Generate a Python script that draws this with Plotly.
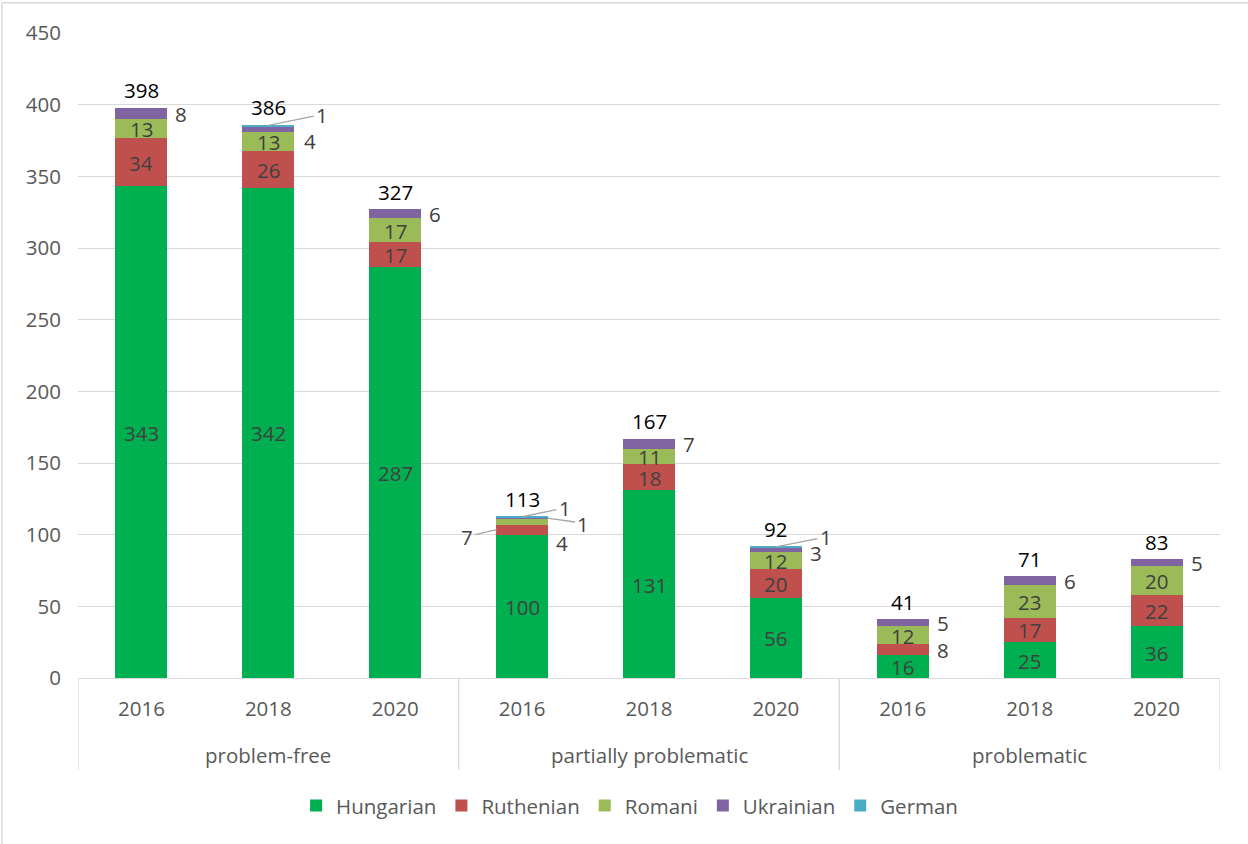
import plotly.graph_objects as go

# ---------------- data ----------------
groups = ["problem-free", "partially problematic", "problematic"]
years = ["2016", "2018", "2020"]
series_names = ["Hungarian", "Ruthenian", "Romani", "Ukrainian", "German"]
hungarian = [343, 342, 287, 100, 131, 56, 16, 25, 36]
ruthenian = [34, 26, 17, 7, 18, 20, 8, 17, 22]
romani = [13, 13, 17, 4, 11, 12, 12, 23, 20]
ukrainian = [8, 4, 6, 1, 7, 3, 5, 6, 5]
german = [0, 1, 0, 1, 0, 1, 0, 0, 0]
colors = ["#00B050", "#C0504D", "#9BBB59", "#8064A2", "#4BACC6"]

values = [hungarian, ruthenian, romani, ukrainian, german]
n = len(hungarian)
xpos = list(range(n))
tick_years = [y for g in groups for y in years]
totals = [sum(v[i] for v in values) for i in range(n)]

FONT = "Open Sans"
FS = 20.5
LABEL_C = "#404040"
AXIS_C = "#595959"
GRID_C = "#d9d9d9"

fig = go.Figure()
for name, vals, col in zip(series_names, values, colors):
    fig.add_trace(go.Bar(
        x=xpos, y=vals, name=name, marker=dict(color=col, line=dict(width=0)),
        width=0.41, hoverinfo="skip",
    ))

# ---------------- labels ----------------
# label placement rules (layout only): series index -> default mode
default_mode = {0: "in", 1: "in", 2: "in", 3: "right", 4: "arrow"}
# per-point overrides: (series, bar) -> dict
overrides = {
    (1, 3): dict(mode="arrow", tipdx=-0.2, ax=-30, ay=7),
    (2, 3): dict(mode="right", xs=40, ys=-21),
    (3, 3): dict(mode="arrow", tipdx=0.2, ax=36, ay=5),
    (4, 3): dict(mode="arrow", tipdx=0.0, ax=43, ay=-9),
    (4, 1): dict(mode="arrow", tipdx=0.0, ax=54, ay=-11),
    (3, 1): dict(mode="right", xs=42, ys=-11),
    (4, 5): dict(mode="arrow", tipdx=0.0, ax=50, ay=-10),
    (3, 5): dict(mode="right", xs=40, ys=-3),
    (1, 6): dict(mode="right", xs=40, ys=0),
}

BOXH = 19  # compact label box height (digits only)

annotations = []
for i in range(n):
    base = 0
    for s, vals in enumerate(values):
        v = vals[i]
        if v == 0:
            continue
        mid = base + v / 2
        base += v
        o = overrides.get((s, i), {})
        mode = o.get("mode", default_mode[s])
        font = dict(family=FONT, size=FS, color=LABEL_C)
        if mode == "in":
            annotations.append(dict(x=i, y=mid, xref="x", yref="y", text=str(v),
                                    showarrow=False, font=font, height=BOXH,
                                    borderpad=0))
        elif mode == "right":
            annotations.append(dict(x=i, y=mid, xref="x", yref="y", text=str(v),
                                    showarrow=False, font=font, height=BOXH, borderpad=0,
                                    xshift=o.get("xs", 40), yshift=o.get("ys", 0)))
        else:
            annotations.append(dict(x=i + o.get("tipdx", 0), y=mid, xref="x", yref="y",
                                    text=str(v), showarrow=True, arrowhead=0,
                                    arrowwidth=1.3, arrowcolor="#a6a6a6",
                                    ax=o.get("ax", 45), ay=o.get("ay", -10),
                                    standoff=0, startstandoff=2, font=font,
                                    height=BOXH, borderpad=0))
    annotations.append(dict(x=i, y=totals[i], xref="x", yref="y", text=str(totals[i]),
                            showarrow=False, yshift=18, height=BOXH, borderpad=0,
                            font=dict(family=FONT, size=FS, color="#000000")))

# group labels
for gi, g in enumerate(groups):
    annotations.append(dict(x=gi * 3 + 1, y=-0.119, xref="x", yref="paper", text=g,
                            showarrow=False, yanchor="middle",
                            font=dict(family=FONT, size=FS, color=AXIS_C)))

# ---------------- shapes ----------------
shapes = []
for k in range(len(groups) + 1):
    shapes.append(dict(type="line", xref="x", yref="paper", x0=k * 3 - 0.5, x1=k * 3 - 0.5,
                       y0=0, y1=-0.1426, line=dict(color=GRID_C, width=1.3)))
# chart frame (left and top border)
shapes.append(dict(type="line", xref="paper", yref="paper", x0=-0.0666, x1=-0.0666,
                   y0=1.047, y1=-0.5, line=dict(color=GRID_C, width=1.5)))
shapes.append(dict(type="line", xref="paper", yref="paper", x0=-0.0666, x1=1.1,
                   y0=1.047, y1=1.047, line=dict(color=GRID_C, width=1.5)))

fig.update_layout(
    barmode="stack",
    width=1248, height=844,
    margin=dict(l=78, r=28, t=33, b=166),
    paper_bgcolor="white", plot_bgcolor="white",
    font=dict(family=FONT, size=FS, color=AXIS_C),
    annotations=annotations,
    shapes=shapes,
    legend=dict(orientation="h", x=0.483, y=-0.198, xanchor="center", yanchor="middle",
                traceorder="normal", font=dict(family=FONT, size=FS, color=AXIS_C),
                itemclick=False, itemdoubleclick=False),
    xaxis=dict(
        range=[-0.5, n - 0.5], tickmode="array", tickvals=xpos, ticktext=tick_years,
        showgrid=False, zeroline=False, showline=True, linecolor=GRID_C, linewidth=1.3,
        ticks="", ticklabelstandoff=12, tickfont=dict(family=FONT, size=FS, color=AXIS_C),
        fixedrange=True,
    ),
    yaxis=dict(
        range=[0, 450], dtick=50, tick0=0, showgrid=True, gridcolor=GRID_C, gridwidth=1.3,
        zeroline=False, showline=False, ticks="", ticklabelstandoff=16,
        tickfont=dict(family=FONT, size=FS, color=AXIS_C), fixedrange=True,
    ),
)

fig.write_html("out.html", config={"displayModeBar": False},
               post_script="document.body.style.margin='0';")
